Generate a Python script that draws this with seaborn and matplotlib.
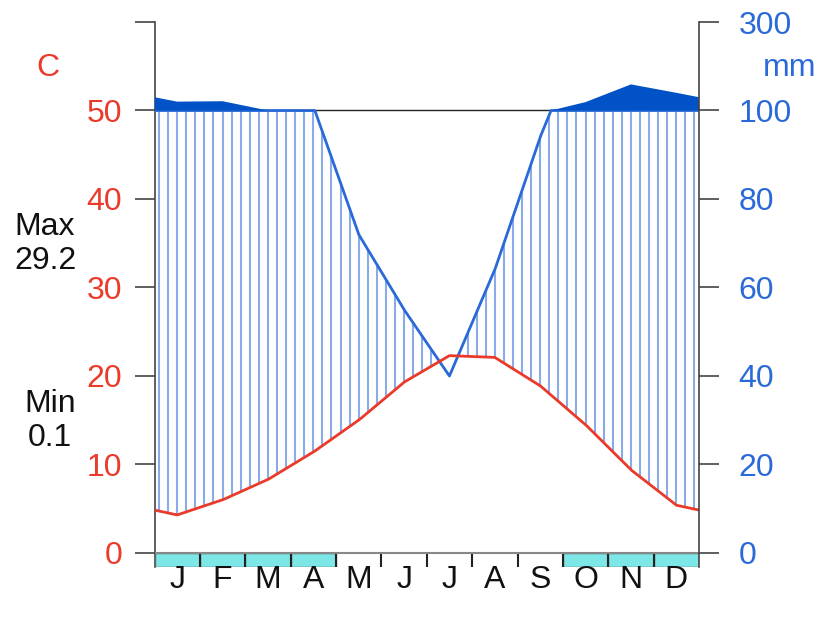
import numpy as np
import pandas as pd
import seaborn as sns
import matplotlib.pyplot as plt
from matplotlib.patches import Rectangle

# monthly climate values
months = ["J", "F", "M", "A", "M", "J", "J", "A", "S", "O", "N", "D"]
temp_c = [4.3, 6.0, 8.3, 11.4, 15.0, 19.3, 22.3, 22.1, 18.9, 14.5, 9.4, 5.4]
precip_mm = [120, 121, 100, 101, 72, 55, 40, 64, 94, 119, 159, 140]
frost = [1, 1, 1, 1, 0, 0, 0, 0, 0, 1, 1, 1]
t_ticks = [0, 10, 20, 30, 40, 50, 60]
t_labels = ["0", "10", "20", "30", "40", "50", ""]
p_labels = ["0", "20", "40", "60", "80", "100", "300"]
abs_max = "29.2"
abs_min = "0.1"

sns.set_style("white")
plt.rcParams["font.family"] = ["Liberation Sans", "DejaVu Sans"]
fs = 23

red = "#ea3a2a"
blue = "#2a6ad8"
dark_blue = "#0052c6"


def mm_to_t(p):
    # Walter-Lieth scale: 2 mm per degree up to 100 mm, 20 mm per degree above
    p = np.asarray(p, dtype=float)
    return np.where(p <= 100, p / 2.0, 50 + (p - 100) / 20.0)


# mid-month points plus the year edges (mean of Dec and Jan)
xp = np.concatenate([[0], np.arange(12) + 0.5, [12]])
t_edge = (temp_c[0] + temp_c[-1]) / 2
p_edge = (precip_mm[0] + precip_mm[-1]) / 2
tp = np.concatenate([[t_edge], temp_c, [t_edge]])
pp = np.concatenate([[p_edge], precip_mm, [p_edge]])

xf = np.linspace(0, 12, 2401)
temp_f = np.interp(xf, xp, tp)
prec_f = mm_to_t(np.interp(xf, xp, pp))
curves = pd.DataFrame({"x": xf, "temp": temp_f, "prec": np.minimum(prec_f, 50)})

fig = plt.figure(figsize=(8.19, 6.23), dpi=100)
bottom_px, top_px = 567, 22
ax = fig.add_axes([154.5 / 819, 1 - bottom_px / 623, 544.5 / 819, (bottom_px - top_px) / 623])
ylo = -14 / 8.84
ax.set_xlim(0, 12)
ax.set_ylim(ylo, 60)

# humid period hatching
xs = (np.arange(60) + 0.5) / 5
ht = np.interp(xs, xf, temp_f)
hp = np.minimum(np.interp(xs, xf, prec_f), 50)
wet = hp > ht
ax.vlines(xs[wet], ht[wet], hp[wet], color="#4a80dc", lw=1.5, alpha=0.65, zorder=1)

ax.plot([0, 12], [50, 50], color="#222222", lw=1, zorder=2)
sns.lineplot(data=curves, x="x", y="prec", ax=ax, color=blue, lw=2, zorder=4, sort=False)
# very wet part above 100 mm
ax.fill_between(xf, 50, prec_f, where=prec_f > 50, color=dark_blue, lw=0, zorder=5)
sns.lineplot(data=curves, x="x", y="temp", ax=ax, color=red, lw=2, zorder=5, sort=False)

# frost months band and month separators
for i, f in enumerate(frost):
    if f:
        ax.add_patch(Rectangle((i, ylo), 1, -ylo, facecolor="#7de6e6", edgecolor="#666666", lw=1, zorder=3))
ax.vlines(np.arange(1, 12), ylo, 0, color="#222222", lw=1.5, zorder=4)
ax.plot([0, 12], [0, 0], color="#888888", lw=1.5, zorder=4)

for i, m in enumerate(months):
    ax.text(i + 0.5, -3.1, m, ha="center", va="center", fontsize=fs, color="#111111")

ax.set_xlabel("")
ax.set_ylabel("")
ax.set_xticks([])
ax.set_yticks(t_ticks)
ax.set_yticklabels(t_labels, color=red, fontsize=fs)
ax.tick_params(axis="y", length=14.4, width=1.2, color="#444444", pad=9)
for s in ["top", "bottom", "right"]:
    ax.spines[s].set_visible(False)
ax.spines["left"].set_color("#444444")
ax.spines["left"].set_linewidth(1.2)

ax2 = ax.twinx()
ax2.set_ylim(ylo, 60)
ax2.set_yticks(t_ticks)
ax2.set_yticklabels(p_labels, color=blue, fontsize=fs)
ax2.tick_params(axis="y", length=14.4, width=1.2, color="#444444", pad=14)
for s in ["top", "bottom", "left"]:
    ax2.spines[s].set_visible(False)
ax2.spines["right"].set_color("#444444")
ax2.spines["right"].set_linewidth(1.2)

fig.text(48 / 819, 1 - 68 / 623, "C", color=red, fontsize=fs, ha="center", va="center")
fig.text(790 / 819, 1 - 68 / 623, "mm", color=blue, fontsize=fs, ha="center", va="center")
fig.text(45 / 819, 1 - 244 / 623, "Max\n" + abs_max, color="#111111", fontsize=fs,
         ha="center", va="center", linespacing=1.2)
fig.text(50 / 819, 1 - 421 / 623, "Min\n" + abs_min, color="#111111", fontsize=fs,
         ha="center", va="center", linespacing=1.2)

fig.savefig("out.png", dpi=100)
